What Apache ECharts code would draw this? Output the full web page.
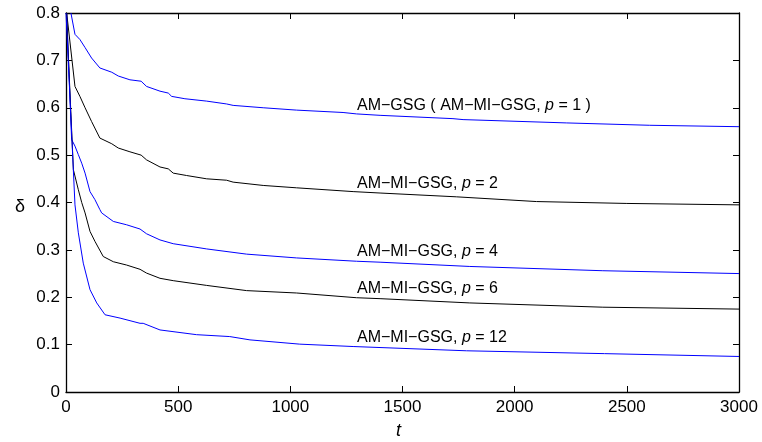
<!DOCTYPE html>
<html>
<head>
<meta charset="utf-8">
<script src="https://cdn.jsdelivr.net/npm/echarts@6/dist/echarts.min.js"></script>
<style>html,body{margin:0;padding:0;background:#fff}#c{width:762px;height:442px}</style>
</head>
<body>
<div id="c"></div>
<script>
// ---- data (t, delta) ----
const p1 = [[22,0.80],[40,0.755],[62,0.744],[85,0.727],[114,0.705],[151,0.684],[204,0.675],[233,0.667],[285,0.659],[335,0.656],[359,0.645],[419,0.635],[456,0.631],[471,0.624],[530,0.619],[627,0.614],[716,0.608],[745,0.605],[879,0.600],[1028,0.595],[1235,0.590],[1295,0.587],[1400,0.584],[1725,0.577],[1770,0.575],[2230,0.568],[2600,0.563],[3000,0.560]];
const p2 = [[3,0.80],[40,0.645],[62,0.624],[85,0.600],[114,0.571],[151,0.536],[204,0.524],[233,0.515],[285,0.507],[335,0.500],[359,0.490],[419,0.475],[456,0.471],[478,0.462],[537,0.457],[627,0.450],[716,0.447],[745,0.443],[879,0.436],[1028,0.431],[1280,0.423],[1400,0.420],[1740,0.412],[2097,0.402],[2500,0.398],[3000,0.395]];
const p4 = [[3,0.80],[25,0.533],[40,0.519],[55,0.501],[70,0.483],[85,0.462],[107,0.423],[129,0.406],[151,0.385],[159,0.378],[211,0.360],[270,0.353],[330,0.344],[359,0.334],[419,0.321],[478,0.313],[627,0.302],[805,0.291],[1028,0.283],[1295,0.276],[1400,0.274],[1800,0.265],[2393,0.256],[3000,0.250]];
const p6 = [[2,0.80],[33,0.469],[55,0.427],[70,0.400],[85,0.378],[107,0.339],[129,0.318],[166,0.286],[211,0.275],[270,0.268],[330,0.259],[359,0.251],[419,0.240],[478,0.235],[627,0.225],[805,0.214],[1028,0.209],[1295,0.199],[1400,0.197],[1800,0.188],[2393,0.179],[3000,0.175]];
const p12 = [[0,0.80],[40,0.395],[55,0.336],[77,0.272],[107,0.216],[137,0.188],[174,0.163],[241,0.156],[330,0.145],[344,0.145],[419,0.131],[582,0.121],[730,0.117],[820,0.110],[1042,0.101],[1280,0.096],[1785,0.087],[2400,0.081],[3000,0.075]];
const seriesNames = ['p=1','p=2','p=4','p=6','p=12'];
const seriesColors = ['#0000ff','#000000','#0000ff','#000000','#0000ff'];
const curveLabels = ['AM\u2212GSG ( AM\u2212MI\u2212GSG, {i|p} = 1 )','AM\u2212MI\u2212GSG, {i|p} = 2','AM\u2212MI\u2212GSG, {i|p} = 4','AM\u2212MI\u2212GSG, {i|p} = 6','AM\u2212MI\u2212GSG, {i|p} = 12'];
const xTitle = 't';
const yTitle = '\u03b4';

const FONT = '"Liberation Sans", Arial, Helvetica, sans-serif';
const labelY = [106, 184, 252, 289, 338];
const allData = [p1, p2, p4, p6, p12];

const chart = echarts.init(document.getElementById('c'), null, {renderer: 'canvas'});
const axisCommon = {
  axisLine: {show: true, onZero: false, lineStyle: {color: '#000', width: 1.3}},
  axisTick: {show: true, inside: true, length: 6, lineStyle: {color: '#000'}},
  splitLine: {show: false}
};
chart.setOption({
  animation: false,
  backgroundColor: '#fff',
  grid: {left: 66, right: 23, top: 13, bottom: 50, containLabel: false},
  xAxis: [
    Object.assign({type: 'value', min: 0, max: 3000, interval: 500, position: 'bottom',
      axisLabel: {color: '#000', fontSize: 17, fontFamily: FONT, margin: 7, formatter: v => String(v)}}, axisCommon),
    Object.assign({type: 'value', min: 0, max: 3000, interval: 500, position: 'top',
      axisLabel: {show: false}}, axisCommon)
  ],
  yAxis: [
    Object.assign({type: 'value', min: 0, max: 0.8, interval: 0.1, position: 'left',
      axisLabel: {color: '#000', fontSize: 17, fontFamily: FONT, margin: 6,
        formatter: v => (Math.round(v * 10) / 10).toString()}}, axisCommon),
    Object.assign({type: 'value', min: 0, max: 0.8, interval: 0.1, position: 'right',
      axisLabel: {show: false}}, axisCommon)
  ],
  series: allData.map((d, i) => ({
    name: seriesNames[i], type: 'line', data: d, showSymbol: false, symbol: 'none',
    clip: true, lineStyle: {color: seriesColors[i], width: 1}, z: 3
  })),
  graphic: [
    {type: 'text', left: 15, top: 198, style: {text: yTitle, fontSize: 18, fontFamily: FONT, fill: '#000'}},
    {type: 'text', left: 396, top: 422, style: {text: xTitle, fontSize: 18, fontStyle: 'italic', fontFamily: FONT, fill: '#000'}}
  ].concat(curveLabels.map((t, i) => ({
    type: 'text', x: 357, y: labelY[i], z: 10,
    style: {text: t, fontSize: 16, fontFamily: FONT, fill: '#000', verticalAlign: 'middle', align: 'left',
      rich: {i: {fontStyle: 'italic', fontSize: 16, fontFamily: FONT, fill: '#000'}}}
  })))
});
</script>
</body>
</html>
